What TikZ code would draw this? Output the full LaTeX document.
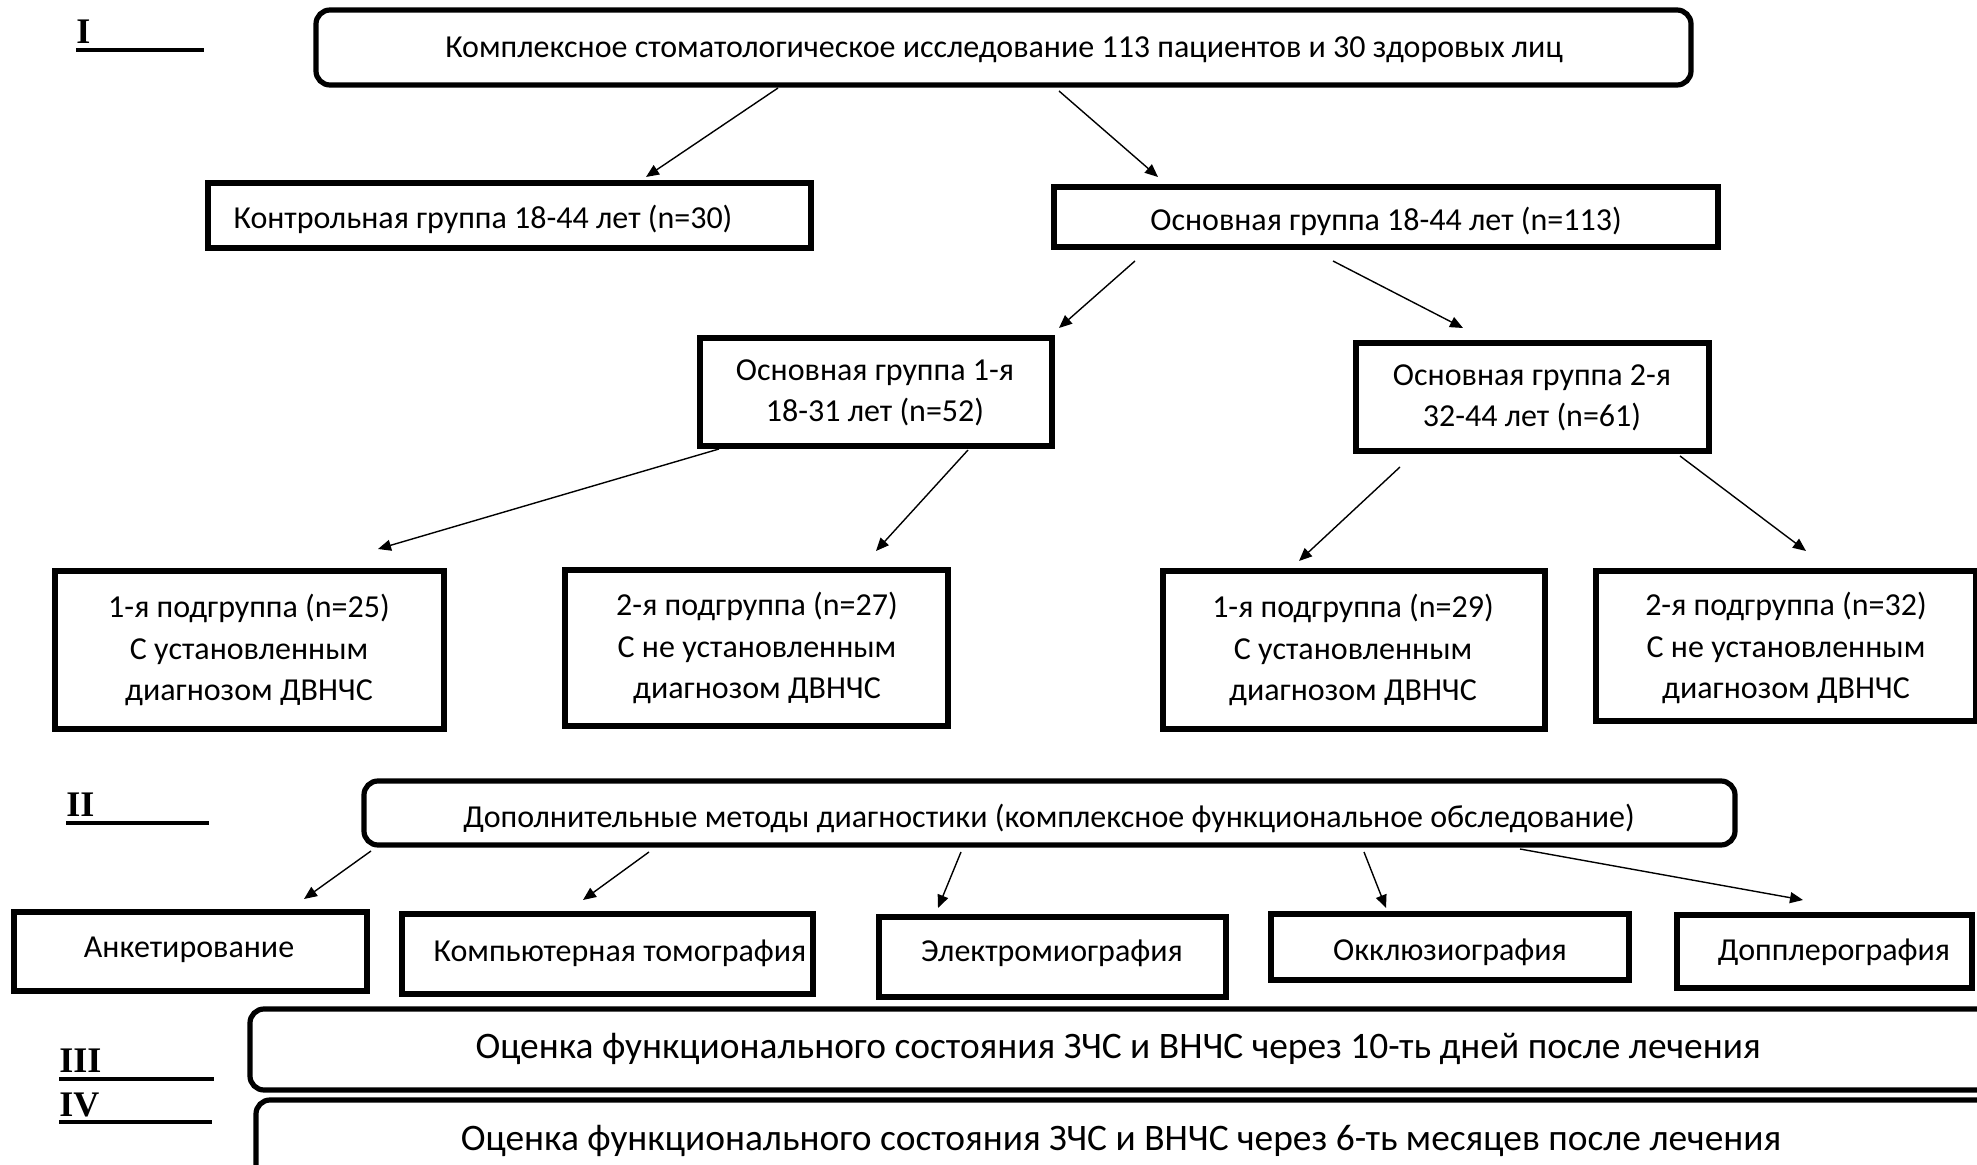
\documentclass[tikz,border=0pt]{standalone}
\usepackage{fontspec}
\setmainfont{Carlito}
\newfontfamily\romanfont{Liberation Serif}
\usetikzlibrary{arrows.meta,fit}
\begin{document}
\begin{tikzpicture}[x=0.5pt,y=-0.5pt,
 box/.style={draw, line width=2.8pt, inner sep=0pt},
 rbox/.style={box, rounded corners=7pt, line width=2.6pt},
 txt/.style={inner sep=0pt, align=center, font=\fontsize{16}{20.75}\selectfont},
 bigtxt/.style={inner sep=0pt, font=\fontsize{18.7}{20}\selectfont},
 arr/.style={line width=0.7pt, -{Triangle[length=6.5pt,width=5.5pt]}},
 num/.style={font=\romanfont\bfseries\fontsize{18}{18}\selectfont, inner sep=0pt, anchor=base west},
 uline/.style={line width=1.8pt}]
\useasboundingbox (0,0) rectangle (1977,1165);

% level labels
\node[num] (L1) at (76,44) {I};
\draw[uline] (76,50) -- (204,50);
\node[num] (L2) at (66,817) {II};
\draw[uline] (66,823) -- (209,823);
\node[num] (L3) at (59,1072) {III};
\draw[uline] (59,1079) -- (214,1079);
\node[num] (L4) at (59,1116) {IV};
\draw[uline] (59,1122) -- (212,1122);

% level I
\node[rbox, fit={(316,10)(1691,85)}] (top) {};
\node[txt] (topt) at (1004,50) {Комплексное стоматологическое исследование 113 пациентов и 30 здоровых лиц};
\node[box, fit={(208,183)(811,248)}] (ctrl) {};
\node[txt] (ctrlt) at (483,219) {Контрольная группа 18-44 лет (n=30)};
\node[box, fit={(1054,187)(1718,247)}] (main) {};
\node[txt] (maint) at (1386,221) {Основная группа 18-44 лет (n=113)};

\node[box, fit={(700,338)(1052,446)}] (g1) {};
\node[txt] (g1t) at (875,393) {Основная группа 1-я\\18-31 лет (n=52)};
\node[box, fit={(1356,343)(1709,451)}] (g2) {};
\node[txt] (g2t) at (1532,398) {Основная группа 2-я\\32-44 лет (n=61)};

\node[box, fit={(55,571)(444,729)}] (s1) {};
\node[txt] (s1t) at (249,650) {1-я подгруппа (n=25)\\С установленным\\диагнозом ДВНЧС};
\node[box, fit={(565,570)(948,726)}] (s2) {};
\node[txt] (s2t) at (757,648) {2-я подгруппа (n=27)\\С не установленным\\диагнозом ДВНЧС};
\node[box, fit={(1163,571)(1545,729)}] (s3) {};
\node[txt] (s3t) at (1353,650) {1-я подгруппа (n=29)\\С установленным\\диагнозом ДВНЧС};
\node[box, fit={(1596,571)(1976,721)}] (s4) {};
\node[txt] (s4t) at (1786,648) {2-я подгруппа (n=32)\\С не установленным\\диагнозом ДВНЧС};

\coordinate (a1s) at (778,88);  \coordinate (a1e) at (646,177);
\coordinate (a2s) at (1059,91); \coordinate (a2e) at (1158,177);
\coordinate (a3s) at (1135,261); \coordinate (a3e) at (1059,328);
\coordinate (a4s) at (1333,261); \coordinate (a4e) at (1463,328);
\coordinate (a5s) at (719,449);  \coordinate (a5e) at (378,549);
\coordinate (a6s) at (968,450);  \coordinate (a6e) at (876,551);
\coordinate (a7s) at (1400,467); \coordinate (a7e) at (1299,561);
\coordinate (a8s) at (1680,456); \coordinate (a8e) at (1806,551);
\draw[arr] (a1s) -- (a1e);
\draw[arr] (a2s) -- (a2e);
\draw[arr] (a3s) -- (a3e);
\draw[arr] (a4s) -- (a4e);
\draw[arr] (a5s) -- (a5e);
\draw[arr] (a6s) -- (a6e);
\draw[arr] (a7s) -- (a7e);
\draw[arr] (a8s) -- (a8e);

% level II
\node[rbox, fit={(364,781)(1735,845)}] (dop) {};
\node[txt] (dopt) at (1049,818) {Дополнительные методы диагностики (комплексное функциональное обследование)};
\node[box, fit={(14,912)(367,991)}] (m1) {};
\node[txt] (m1t) at (189,950) {Анкетирование};
\node[box, fit={(402,914)(813,994)}] (m2) {};
\node[txt] (m2t) at (620,953) {Компьютерная томография};
\node[box, fit={(879,917)(1226,997)}] (m3) {};
\node[txt] (m3t) at (1052,953) {Электромиография};
\node[box, fit={(1271,914)(1629,980)}] (m4) {};
\node[txt] (m4t) at (1450,952) {Окклюзиография};
\node[box, fit={(1677,915)(1972,988)}] (m5) {};
\node[txt] (m5t) at (1834,952) {Допплерография};

\coordinate (b1s) at (371,851);  \coordinate (b1e) at (304,899);
\coordinate (b2s) at (649,852);  \coordinate (b2e) at (583,900);
\coordinate (b3s) at (961,852);  \coordinate (b3e) at (938,908);
\coordinate (b4s) at (1364,852); \coordinate (b4e) at (1386,908);
\coordinate (b5s) at (1520,849); \coordinate (b5e) at (1803,900);
\draw[arr] (b1s) -- (b1e);
\draw[arr] (b2s) -- (b2e);
\draw[arr] (b3s) -- (b3e);
\draw[arr] (b4s) -- (b4e);
\draw[arr] (b5s) -- (b5e);

% levels III, IV
\node[rbox, fit={(250,1009)(2000,1090)}] (e3) {};
\node[bigtxt] (e3t) at (1118,1049) {Оценка функционального состояния ЗЧС и ВНЧС через 10-ть дней после лечения};
\node[rbox, fit={(256,1100)(2000,1185)}] (e4) {};
\node[bigtxt] (e4t) at (1121,1141) {Оценка функционального состояния ЗЧС и ВНЧС через 6-ть месяцев после лечения};
\end{tikzpicture}
\end{document}
